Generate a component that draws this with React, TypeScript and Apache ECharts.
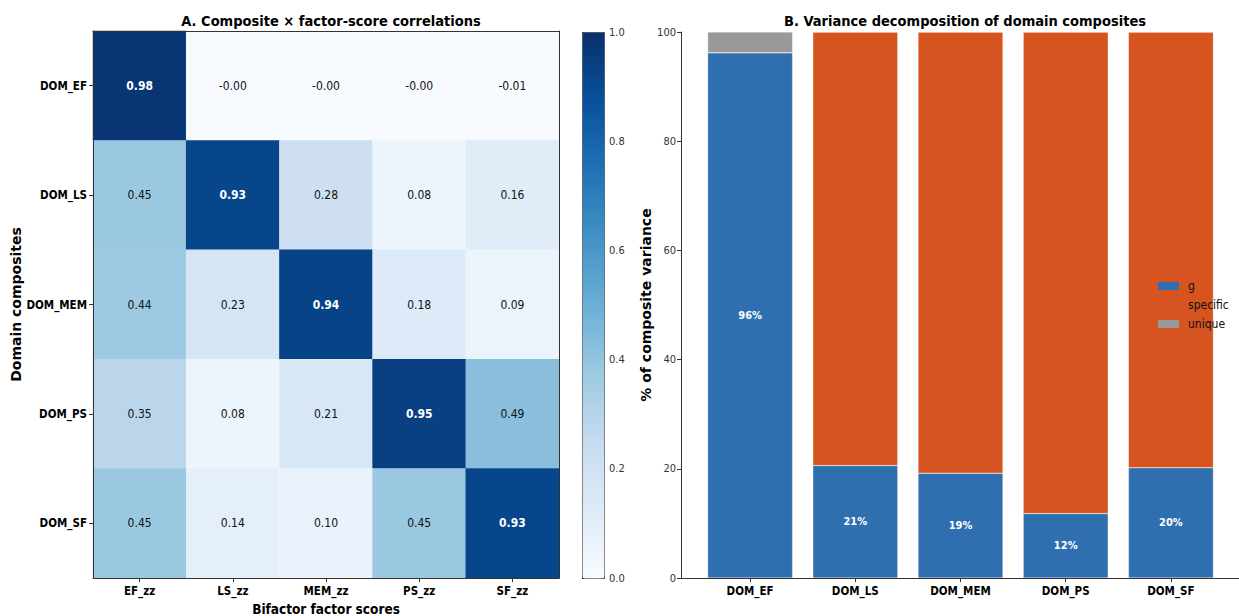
import React, { useEffect, useRef } from "react";
import * as echarts from "echarts";

const factorScores = ["EF_zz", "LS_zz", "MEM_zz", "PS_zz", "SF_zz"];
const domains = ["DOM_EF", "DOM_LS", "DOM_MEM", "DOM_PS", "DOM_SF"];
const corrEF = [0.98, -0.001, -0.001, -0.001, -0.01];
const corrLS = [0.45, 0.93, 0.28, 0.08, 0.16];
const corrMEM = [0.44, 0.23, 0.94, 0.18, 0.09];
const corrPS = [0.35, 0.08, 0.21, 0.95, 0.49];
const corrSF = [0.45, 0.14, 0.1, 0.45, 0.93];
const corrRows = [corrEF, corrLS, corrMEM, corrPS, corrSF];

const gShare = [96.2, 20.6, 19.2, 11.8, 20.2];
const specificShare = [0, 79.4, 80.8, 88.2, 79.8];
const uniqueShare = [3.8, 0, 0, 0, 0];

const colorbarTicks = [0, 0.2, 0.4, 0.6, 0.8, 1.0];
const barTicks = [0, 20, 40, 60, 80, 100];

const BLUES = ["#f7fbff", "#deebf7", "#c6dbef", "#9ecae1", "#6baed6", "#4292c6", "#2171b5", "#08519c", "#08306b"];
const FC = '"DejaVu Sans Condensed", "Liberation Sans Narrow", "DejaVu Sans", sans-serif';
const FW = '"DejaVu Sans", sans-serif';

function hexToRgb(h: string) {
  return [parseInt(h.slice(1, 3), 16), parseInt(h.slice(3, 5), 16), parseInt(h.slice(5, 7), 16)];
}
function bluesAt(p: number) {
  const t = Math.max(0, Math.min(1, p)) * (BLUES.length - 1);
  const i = Math.min(BLUES.length - 2, Math.floor(t));
  const f = t - i;
  const a = hexToRgb(BLUES[i]);
  const b = hexToRgb(BLUES[i + 1]);
  const c = a.map((x, k) => Math.round(x + (b[k] - x) * f));
  return `rgb(${c[0]},${c[1]},${c[2]})`;
}
// cell colour ramp (slightly gamma-corrected Blues, as rendered in the reference)
const CELL_RAMP = Array.from({ length: 21 }, (_, i) => bluesAt(Math.pow(i / 20, 1.2)));

export default function App() {
  const ref = useRef<HTMLDivElement>(null);
  useEffect(() => {
    if (!ref.current) return;
    const chart = echarts.init(ref.current, null, { renderer: "svg" });
    const heatData: any[] = [];
    corrRows.forEach((row, yi) => {
      row.forEach((v, xi) => {
        const dark = v > 0.6;
        heatData.push({
          value: [xi, yi, v],
          label: { color: dark ? "#fff" : "#111", fontWeight: dark ? "bold" : "normal" },
        });
      });
    });
    const spine = { show: true, lineStyle: { color: "#333", width: 1 } };
    const tick = { show: true, length: 4, lineStyle: { color: "#333" } };
    const option: any = {
      animation: false,
      textStyle: { fontFamily: FC },
      title: [
        { text: "A. Composite × factor-score correlations", left: 326, top: 8, textAlign: "center",
          textStyle: { fontFamily: FC, fontSize: 14.5, fontWeight: "bold", color: "#000" } },
        { text: "B. Variance decomposition of domain composites", left: 960, top: 8, textAlign: "center",
          textStyle: { fontFamily: FC, fontSize: 14.5, fontWeight: "bold", color: "#000" } },
      ],
      grid: [
        { left: 93, top: 31, width: 466, height: 547, outerBoundsMode: "none" },
        { left: 582, top: 32, width: 22, height: 546, outerBoundsMode: "none" },
        { left: 697.5, top: 32, width: 526, height: 546, outerBoundsMode: "none" },
        { left: 681, top: 32, width: 558, height: 546, outerBoundsMode: "none" },
      ],
      xAxis: [
        { type: "category", gridIndex: 0, data: factorScores, z: 5,
          axisLine: spine, axisTick: { ...tick, alignWithLabel: true },
          axisLabel: { fontFamily: FC, fontSize: 11.5, fontWeight: "bold", color: "#000", margin: 7 },
          name: "Bifactor factor scores", nameLocation: "middle", nameGap: 22,
          nameTextStyle: { fontFamily: FC, fontSize: 13.5, fontWeight: "bold", color: "#000" } },
        { type: "value", gridIndex: 0, position: "top", min: 0, max: 1, z: 5, axisLine: spine,
          axisTick: { show: false }, axisLabel: { show: false }, splitLine: { show: false } },
        { type: "value", gridIndex: 1, show: false, min: 0, max: 1 },
        { type: "category", gridIndex: 2, data: domains, z: 5,
          axisLine: { show: false }, axisTick: { ...tick, alignWithLabel: true },
          axisLabel: { fontFamily: FC, fontSize: 11.5, fontWeight: "bold", color: "#000", margin: 7 } },
        { type: "value", gridIndex: 3, min: 0, max: 1, z: 5, axisLine: spine,
          axisTick: { show: false }, axisLabel: { show: false }, splitLine: { show: false } },
      ],
      yAxis: [
        { type: "category", gridIndex: 0, data: domains, inverse: true, z: 5,
          axisLine: spine, axisTick: { ...tick, alignWithLabel: true },
          axisLabel: { fontFamily: FC, fontSize: 11.5, fontWeight: "bold", color: "#000", margin: 6 },
          name: "Domain composites", nameLocation: "middle", nameGap: 56, nameRotate: 90,
          nameTextStyle: { fontFamily: FW, fontSize: 14, fontWeight: "bold", color: "#000" } },
        { type: "value", gridIndex: 0, position: "right", min: 0, max: 1, z: 5, axisLine: spine,
          axisTick: { show: false }, axisLabel: { show: false }, splitLine: { show: false } },
        { type: "value", gridIndex: 1, position: "right", min: 0, max: 1, interval: 0.2,
          axisLine: { show: false }, axisTick: tick,
          axisLabel: { fontFamily: FC, fontSize: 11, color: "#333", margin: 5, formatter: (v: number) => v.toFixed(1),
            customValues: colorbarTicks },
          splitLine: { show: false } },
        { type: "value", gridIndex: 2, min: 0, max: 100, interval: 20, offset: 16.5, z: 5,
          axisLine: spine, axisTick: tick,
          axisLabel: { fontFamily: FC, fontSize: 11, color: "#333", margin: 5, customValues: barTicks },
          splitLine: { show: false },
          name: "% of composite variance", nameLocation: "middle", nameGap: 27, nameRotate: 90,
          nameTextStyle: { fontFamily: FW, fontSize: 14, fontWeight: "bold", color: "#000" } },
        { type: "value", gridIndex: 3, show: false, min: 0, max: 1 },
      ],
      visualMap: [
        {
          type: "continuous", show: false, seriesIndex: 0, dimension: 2, min: 0, max: 1,
          inRange: { color: CELL_RAMP }, outOfRange: { color: "#ffffff" },
        },
        {
          type: "continuous", seriesIndex: 4, dimension: 1, min: 0, max: 1,
          calculable: false, hoverLink: false, left: 582, top: 32, itemWidth: 22, itemHeight: 546,
          padding: 0, borderColor: "#444", borderWidth: 1, text: null, showLabel: false,
          inRange: { color: BLUES },
        },
      ],
      legend: {
        orient: "vertical", left: 1158, top: 280, padding: 0, itemWidth: 21, itemHeight: 8, itemGap: 7, icon: "rect",
        itemStyle: { borderWidth: 0 },
        textStyle: { fontFamily: FC, fontSize: 12, color: "#111", padding: [0, 0, 0, 4] },
        data: [{ name: "g" }, { name: "specific", itemStyle: { opacity: 0 } }, { name: "unique" }],
      },
      series: [
        { type: "heatmap", xAxisIndex: 0, yAxisIndex: 0, data: heatData,
          label: { show: true, fontFamily: FC, fontSize: 12, formatter: (p: any) => p.value[2].toFixed(2) } },
        { type: "bar", name: "g", xAxisIndex: 3, yAxisIndex: 3, stack: "v", barWidth: 85, data: gShare,
          itemStyle: { color: "#2f6faf", borderColor: "rgba(255,255,255,0.6)", borderWidth: 0.5 },
          label: { show: true, position: "inside", color: "#fff", fontFamily: FC, fontSize: 11, fontWeight: "bold",
            formatter: (p: any) => Math.round(p.value) + "%" } },
        { type: "bar", name: "specific", xAxisIndex: 3, yAxisIndex: 3, stack: "v", barWidth: 85, data: specificShare,
          itemStyle: { color: "#d5541f", borderColor: "rgba(255,255,255,0.6)", borderWidth: 0.5 } },
        { type: "bar", name: "unique", xAxisIndex: 3, yAxisIndex: 3, stack: "v", barWidth: 85, data: uniqueShare,
          itemStyle: { color: "#999999", borderColor: "rgba(255,255,255,0.6)", borderWidth: 0.5 } },
        { type: "scatter", xAxisIndex: 2, yAxisIndex: 2, data: [], silent: true },
      ],
    };
    chart.setOption(option);
    return () => chart.dispose();
  }, []);
  return <div ref={ref} style={{ position: "fixed", left: 0, top: 0, width: 1239, height: 616, background: "#fff" }} />;
}
